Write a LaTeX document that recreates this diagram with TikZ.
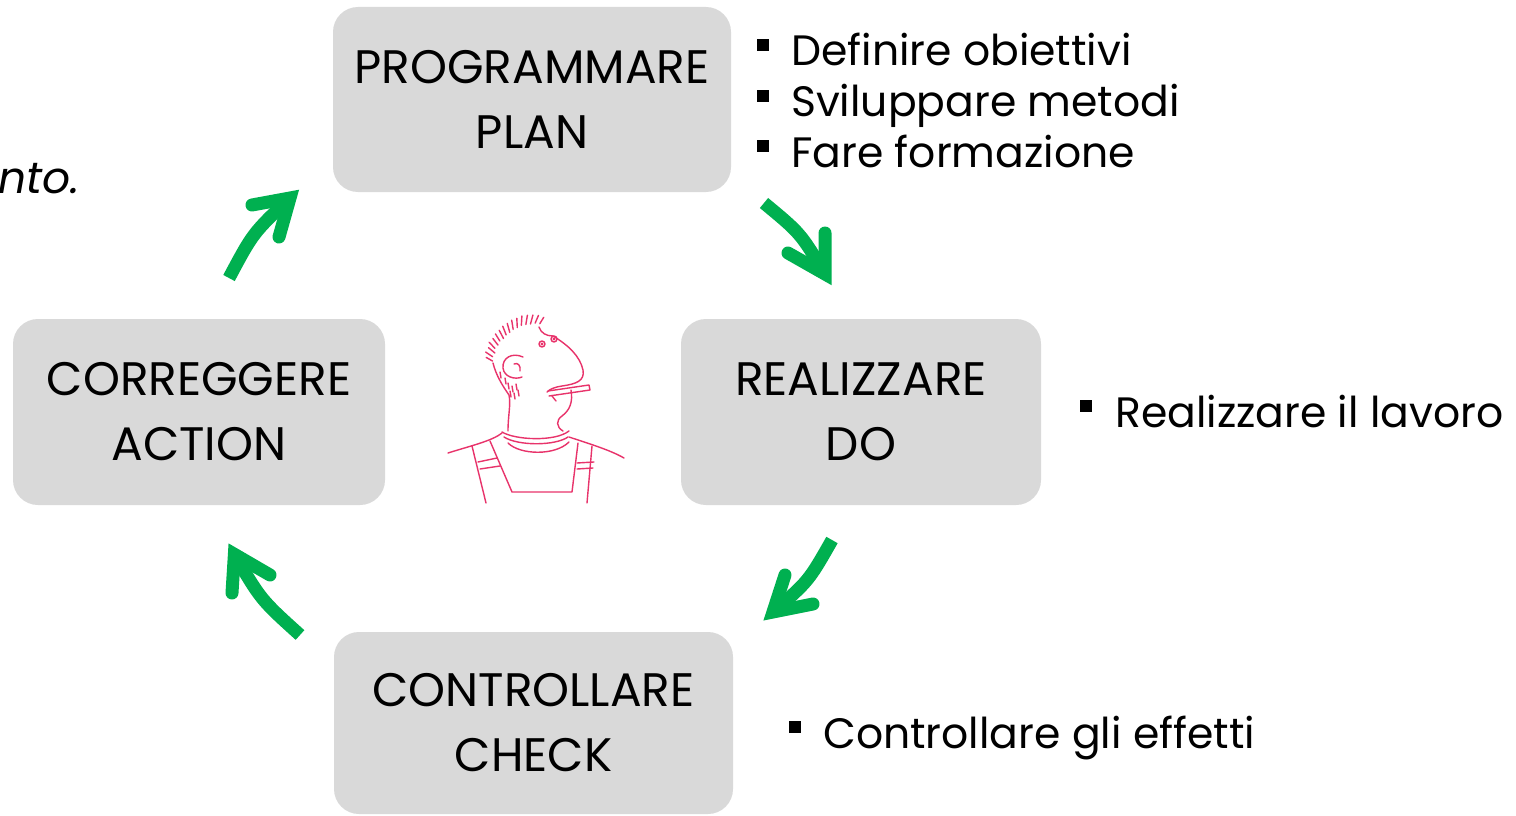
\documentclass[tikz,border=0pt]{standalone}
\usepackage{fontspec}
\setmainfont{Poppins}
\definecolor{boxgray}{HTML}{D9D9D9}
\definecolor{cyclegreen}{HTML}{00B050}
\definecolor{sketchpink}{HTML}{E8336B}
\newcommand{\bulletsq}{\rule[15pt]{12pt}{12pt}}
\begin{document}
\begin{tikzpicture}[x=1pt,y=-1pt,
  phase/.style={fill=boxgray, rounded corners=25pt, inner sep=0pt,
    align=center, font=\fontsize{47}{65}\selectfont},
  item/.style={anchor=base west, inner sep=0pt, font=\fontsize{42.5}{50}\selectfont},
  shaft/.style={draw=cyclegreen, line width=13pt, line cap=butt},
  head/.style={draw=cyclegreen, line width=13pt, line cap=round, line join=miter, miter limit=10},
  sketch/.style={draw=sketchpink, line width=1.4pt, line cap=round, line join=round}]
\useasboundingbox (0,0) rectangle (1516,816);
\fill[white] (0,0) rectangle (1516,816);
\clip (0,0) rectangle (1516,816);

% the four phases of the cycle
\node[phase, minimum width=398pt, minimum height=185pt] (plan) at (532,99.5) {PROGRAMMARE\\PLAN};
\node[phase, minimum width=360pt, minimum height=186pt] (do) at (861,412) {REALIZZARE\\DO};
\node[phase, minimum width=399pt, minimum height=182pt] (check) at (533.5,723) {CONTROLLARE\\CHECK};
\node[phase, minimum width=372pt, minimum height=186pt] (action) at (199,412) {CORREGGERE\\ACTION};

% bullet lists
\node[item] (plan1) at (757,66) {\bulletsq\hspace{22pt}Definire obiettivi};
\node[item] (plan2) at (757,117) {\bulletsq\hspace{22pt}Sviluppare metodi};
\node[item] (plan3) at (757,167) {\bulletsq\hspace{22pt}Fare formazione};
\node[item] (do1) at (1080,427) {\bulletsq\hspace{23pt}Realizzare il lavoro};
\node[item] (check1) at (789,748) {\bulletsq\hspace{22pt}Controllare gli effetti};

% trailing text from the left margin
\node[anchor=base east, inner sep=0pt, font=\fontsize{44}{50}\selectfont\itshape] (tail) at (80,193) {nto.};

% cycle arrows: shaft from start to the head vertex, then the chevron
\coordinate (a1s) at (229,278); \coordinate (a1v) at (290,198);
\coordinate (a1l) at (252,205); \coordinate (a1r) at (279,237);
\draw[shaft] (a1s) .. controls (253,233) .. (a1v);
\draw[head] (a1l) -- (a1v) -- (a1r);

\coordinate (a2s) at (764,203); \coordinate (a2v) at (825,274);
\coordinate (a2l) at (825,233); \coordinate (a2r) at (788,253);
\draw[shaft] (a2s) .. controls (800.6,233.3) .. (a2v);
\draw[head] (a2l) -- (a2v) -- (a2r);

\coordinate (a3s) at (832,540); \coordinate (a3v) at (773,612);
\coordinate (a3l) at (785,575); \coordinate (a3r) at (813,604);
\draw[shaft] (a3s) .. controls (808.7,581) .. (a3v);
\draw[head] (a3l) -- (a3v) -- (a3r);

\coordinate (a4s) at (300,635); \coordinate (a4v) at (234.4,554.3);
\coordinate (a4l) at (232,593); \coordinate (a4r) at (270,575);
\draw[shaft] (a4s) .. controls (260.8,599.6) .. (a4v);
\draw[head] (a4l) -- (a4v) -- (a4r);

% line sketch of a worker with a cigarette
\begin{scope}[sketch]
  % bristly hair
  \foreach \a/\ri/\ro in {190/40/47,196/41/49,202/40/48,208/42/50,214/41/49,220/42/50,
      226/41/50,232/42/51,238/42/51,244/43/52,250/43/52,256/44/53,262/44/53,
      268/44/53,274/45/53,280/45/52}
    \draw[shift={(532,368)}] (\a:\ri) -- (\a+3:\ro);
  % forehead, nose and upper lip
  \draw (539,327) .. controls (541,333) and (546,336) .. (553,336)
        .. controls (568,345) and (580,356) .. (583,370)
        .. controls (585,381) and (576,384) .. (562,386)
        .. controls (555,387) and (550,389) .. (547,392);
  % eyes
  \draw (542,344) circle (3); \fill[sketchpink] (542,344) circle (1.6);
  \draw (554,339) circle (3); \fill[sketchpink] (554,339) circle (1.6);
  % cigarette
  \draw (548,391) -- (589,385) -- (590,390) -- (549,396);
  \draw (552,396) -- (556,401);
  % chin and jaw
  \draw (571,390) .. controls (573,402) and (570,410) .. (562,416)
        .. controls (556,420) and (556,427) .. (563,431);
  % ear
  \draw (523,357) .. controls (512,352) and (502,358) .. (503,368)
        .. controls (504,377) and (515,380) .. (522,377);
  \draw (514,364) .. controls (518,362) and (521,366) .. (520,371);
  % back of the head and neck
  \draw (493,363) .. controls (496,375) and (502,385) .. (509,395)
        .. controls (511,405) and (508,415) .. (508,431);
  % stubble
  \foreach \x/\y in {508/383,512/386,516/384,510/391,514/393,518/390,505/378,500/372}
    \draw (\x,\y) -- (\x+1,\y+6);
  % collar
  \draw (502,432) .. controls (515,440) and (555,442) .. (569,431);
  \draw (504,437) .. controls (518,446) and (555,446) .. (568,437);
  \draw (508,443) .. controls (520,455) and (555,456) .. (569,442);
  % shoulders
  \draw (448,453) .. controls (470,446) and (492,441) .. (502,433);
  \draw (569,437) .. controls (590,444) and (610,450) .. (624,458);
  % braces and bib
  \draw (472,446) -- (486,503);
  \draw (490,441) -- (512,492) -- (572,492) -- (578,443);
  \draw (592,446) -- (587,503);
  \draw (478,462) -- (497,458); \draw (480,469) -- (500,466);
  \draw (577,463) -- (594,462); \draw (577,469) -- (593,468);
\end{scope}
\end{tikzpicture}
\end{document}
